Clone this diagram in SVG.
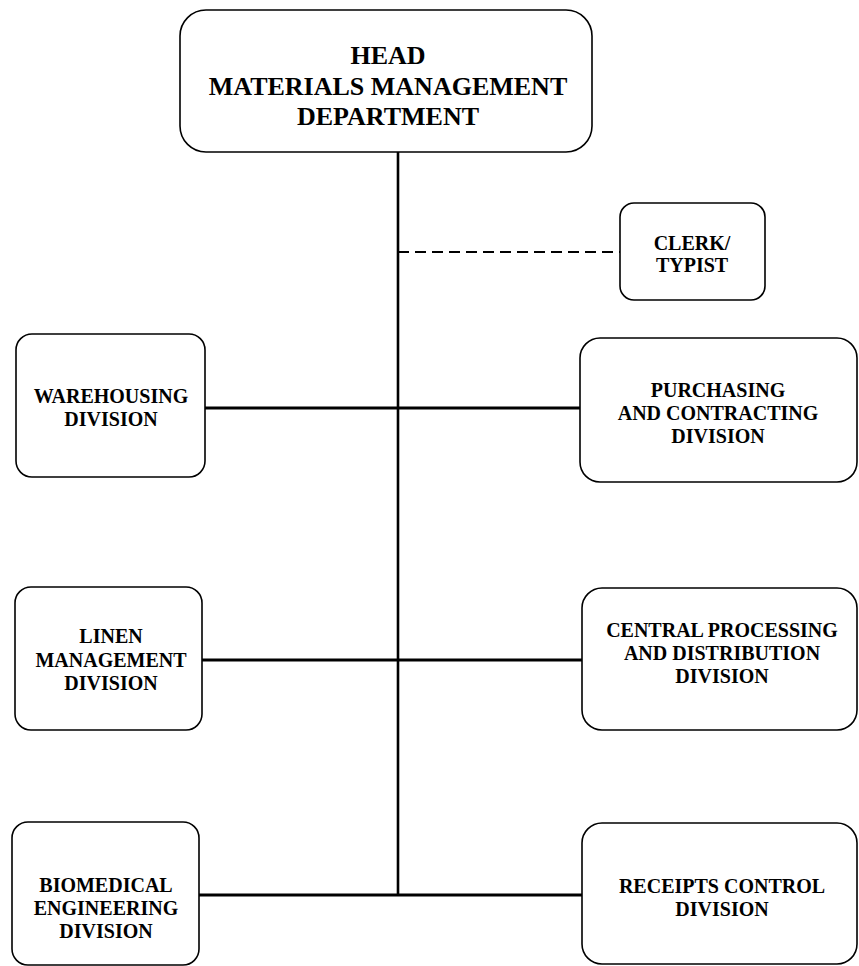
<svg xmlns="http://www.w3.org/2000/svg" width="859" height="966" viewBox="0 0 859 966">
<style>
.box{fill:#fff;stroke:#000;stroke-width:1.6}
.t{font-family:"Liberation Serif","Times New Roman",serif;font-weight:bold;font-size:20px;text-anchor:middle;fill:#000}
.h{font-size:26px}
.ln{stroke:#000;stroke-width:3;fill:none}
.dash{stroke:#000;stroke-width:2;stroke-dasharray:11 6;fill:none}
</style>
<rect width="859" height="966" fill="#fff"/>
<g id="connectors">
<line class="ln" x1="398" y1="152" x2="398" y2="896" style="stroke-width:2.6"/>
<line class="dash" x1="398" y1="252" x2="620" y2="252" stroke-dashoffset="0"/>
<line class="ln" x1="205" y1="408" x2="580" y2="408"/>
<line class="ln" x1="202" y1="660" x2="582" y2="660"/>
<line class="ln" x1="199" y1="895" x2="582" y2="895"/>
</g>
<g id="head">
<rect class="box" x="180" y="10" width="412" height="142" rx="26"/>
<text class="t h" x="388" y="64">HEAD</text>
<text class="t h" x="388" y="95">MATERIALS MANAGEMENT</text>
<text class="t h" x="388" y="125">DEPARTMENT</text>
</g>
<g id="clerk">
<rect class="box" x="620" y="203" width="145" height="97" rx="14"/>
<text class="t" x="692" y="250">CLERK/</text>
<text class="t" x="692" y="272">TYPIST</text>
</g>
<g id="warehousing">
<rect class="box" x="16" y="334" width="189" height="143" rx="16"/>
<text class="t" x="111" y="403">WAREHOUSING</text>
<text class="t" x="111" y="426">DIVISION</text>
</g>
<g id="purchasing">
<rect class="box" x="580" y="338" width="277" height="144" rx="20"/>
<text class="t" x="718" y="397">PURCHASING</text>
<text class="t" x="718" y="420">AND CONTRACTING</text>
<text class="t" x="718" y="443">DIVISION</text>
</g>
<g id="linen">
<rect class="box" x="15" y="587" width="187" height="143" rx="16"/>
<text class="t" x="111" y="643">LINEN</text>
<text class="t" x="111" y="667">MANAGEMENT</text>
<text class="t" x="111" y="690">DIVISION</text>
</g>
<g id="central">
<rect class="box" x="582" y="588" width="275" height="142" rx="20"/>
<text class="t" x="722" y="637">CENTRAL PROCESSING</text>
<text class="t" x="722" y="660">AND DISTRIBUTION</text>
<text class="t" x="722" y="683">DIVISION</text>
</g>
<g id="biomedical">
<rect class="box" x="12" y="822" width="187" height="143" rx="16"/>
<text class="t" x="106" y="892">BIOMEDICAL</text>
<text class="t" x="106" y="915">ENGINEERING</text>
<text class="t" x="106" y="938">DIVISION</text>
</g>
<g id="receipts">
<rect class="box" x="582" y="823" width="275" height="141" rx="20"/>
<text class="t" x="722" y="893">RECEIPTS CONTROL</text>
<text class="t" x="722" y="916">DIVISION</text>
</g>
</svg>
